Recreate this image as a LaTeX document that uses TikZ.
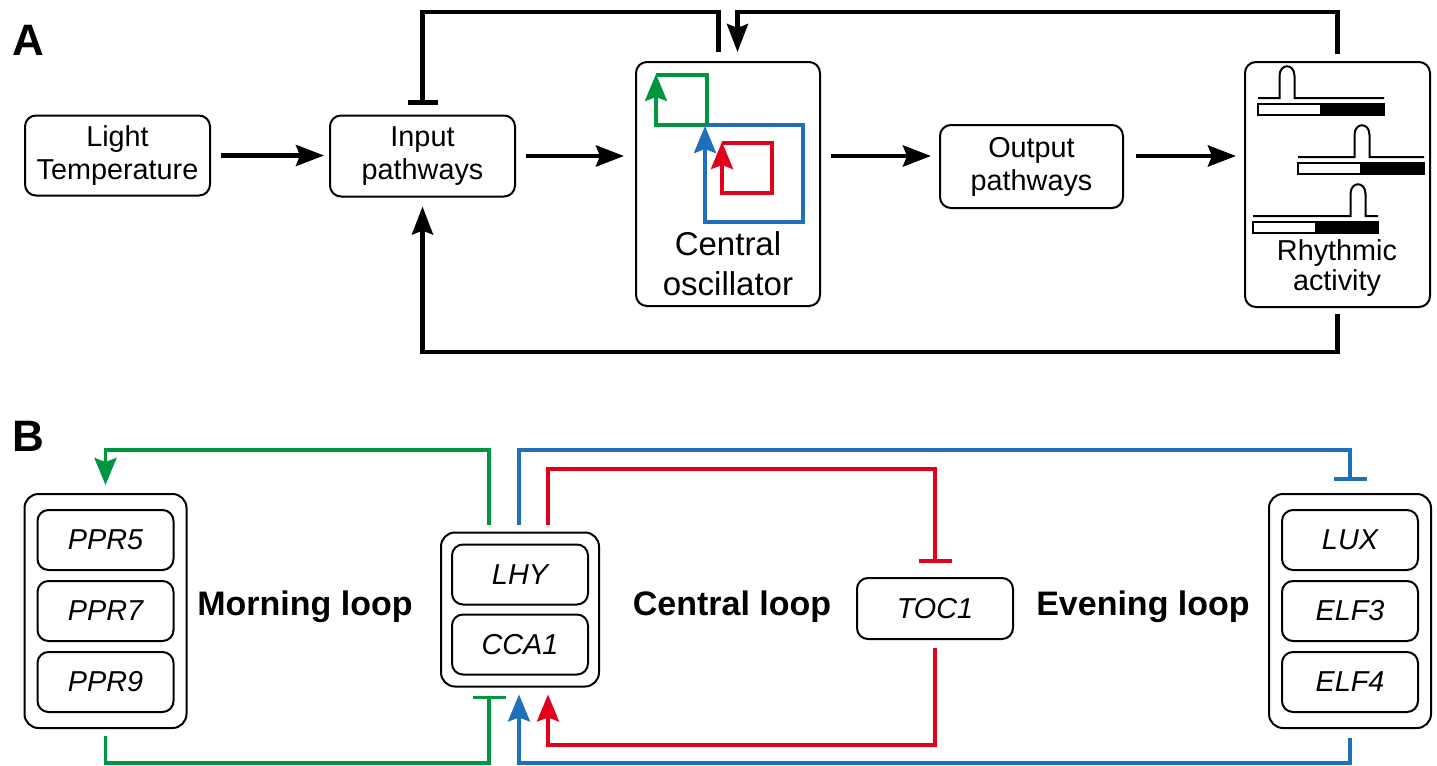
\documentclass[tikz,border=0pt]{standalone}
\usepackage{fontspec}
\setmainfont{Liberation Sans}
\usetikzlibrary{arrows.meta,positioning,fit}
\definecolor{loopgreen}{RGB}{0,150,64}
\definecolor{loopblue}{RGB}{31,112,187}
\definecolor{loopred}{RGB}{226,0,26}
\tikzset{
	box/.style = {
		draw,
		line width=1pt,
		rounded corners=5.5pt,
		align=center,
		inner sep=0pt,
		font=\fontsize{14.4}{16.5}\selectfont
	},
	gene/.style = {
		box,
		font=\fontsize{14.4}{16.5}\selectfont\itshape,
		minimum width=68pt,
		minimum height=30pt
	},
	genegroup/.style = {
		draw,
		line width=1pt,
		rounded corners=7pt,
		inner xsep=6pt,
		inner ysep=7.5pt
	},
	looplabel/.style = {font=\fontsize{17}{20}\selectfont\bfseries},
	panel/.style = {font=\fontsize{22}{24}\selectfont\bfseries, inner sep=0pt},
	flow/.style = {line width=2.2pt, -{Stealth[length=14pt,width=10.5pt,inset=2pt]}},
	block/.style = {line width=2.2pt, -{Bar[width=15pt]}},
	act/.style = {line width=1.8pt, -{Stealth[length=13.5pt,width=11pt,inset=2pt]}},
	rep/.style = {line width=1.8pt, -{Bar[width=16.5pt]}},
	trace/.style = {line width=1pt}
}
\begin{document}
\begin{tikzpicture}[x=0.5pt,y=-0.5pt]
	\useasboundingbox (0,0) rectangle (1437,766);
	\node[panel] (panela) at (28,40) {A};
	\node[panel] (panelb) at (28,436) {B};

	\node[box, minimum width=92.5pt, minimum height=40pt] (light) at (117.5,155.5) {Light\\Temperature};
	\node[box, minimum width=92.5pt, minimum height=40.5pt] (input) at (422.5,156) {Input\\pathways};
	\node[box, minimum width=92pt, minimum height=122pt] (osc) at (728,184) {};
	\node[box, minimum width=91.5pt, minimum height=41.5pt] (output) at (1031.5,166.5) {Output\\pathways};
	\node[box, minimum width=92.5pt, minimum height=122.5pt] (rhythm) at (1337.5,184.5) {};
	\node[font=\fontsize{16.5}{20}\selectfont, align=center] (osctext) at (728,264) {Central\\oscillator};
	\node[font=\fontsize{14.4}{15}\selectfont, align=center] (rhythmtext) at (1337,268) {Rhythmic\\activity};

	\draw[act, loopgreen] (656,75) -- (707,75) -- (707,125) -- (656,125) -- (656,74);
	\draw[act, loopblue] (705,125) -- (803,125) -- (803,222) -- (705,222) -- (705,126);
	\draw[act, loopred] (722,143) -- (772,143) -- (772,193) -- (722,193) -- (722,142);

	\foreach \xa/\xb/\yl/\px/\xw in {1258/1384/98/1287/1320, 1298/1424/157/1362/1360, 1253/1378/216/1358/1315}{
		\draw[trace] (\xa,\yl) -- (\px-7.5,\yl) -- (\px-7.5,\yl-22) .. controls (\px-7.5,\yl-35) and (\px+7.5,\yl-35) .. (\px+7.5,\yl-22) -- (\px+7.5,\yl) -- (\xb,\yl);
		\fill (\xw,\yl+6) rectangle (\xb,\yl+17);
		\draw[trace] (\xa,\yl+6) rectangle (\xb,\yl+17);
	}

	\coordinate (ftop) at (0,12);
	\coordinate (fbot) at (0,352);
	\coordinate (oscl) at ([xshift=-4.75pt]osc.center);
	\coordinate (oscr) at ([xshift=4.75pt]osc.center);

	\draw[flow, shorten <=5pt, shorten >=2.5pt] (light.east) -- (light.east -| input.west);
	\draw[flow, shorten <=5pt, shorten >=5.5pt] (input.east) -- (input.east -| osc.west);
	\draw[flow, shorten <=5pt, shorten >=4pt] (osc.east |- input.east) -- (output.west |- input.east);
	\draw[flow, shorten <=6pt, shorten >=4pt] (output.east |- input.east) -- (rhythm.west |- input.east);
	\draw[block, shorten <=4.5pt, shorten >=5pt] (oscl |- osc.north) |- (input.north |- ftop) -- (input.north);
	\draw[flow, shorten <=3.5pt, shorten >=4.5pt] (rhythm.north) |- (oscr |- ftop) -- (oscr |- osc.north);
	\draw[flow, shorten <=3pt, shorten >=4.5pt] (rhythm.south) |- (input.south |- fbot) -- (input.south);

	\node[gene] (ppr5) at (105.5,540) {PPR5};
	\node[gene, below=4.5pt of ppr5] (ppr7) {PPR7};
	\node[gene, below=4.5pt of ppr7] (ppr9) {PPR9};
	\node[genegroup, fit=(ppr5)(ppr9)] (pprgrp) {};

	\node[gene] (lhy) at (520,574.5) {LHY};
	\node[gene, below=4pt of lhy] (cca1) {CCA1};
	\node[genegroup, inner xsep=5pt, inner ysep=5.5pt, fit=(lhy)(cca1)] (lhygrp) {};

	\node[gene, minimum width=78pt, minimum height=30.5pt] (toc1) at (935,608.5) {TOC1};

	\node[gene] (lux) at (1350,540) {LUX};
	\node[gene, below=4.5pt of lux] (elf3) {ELF3};
	\node[gene, below=4.5pt of elf3] (elf4) {ELF4};
	\node[genegroup, fit=(lux)(elf4)] (luxgrp) {};

	\node[looplabel] (morning) at (305,607) {Morning loop};
	\node[looplabel] (central) at (732,607) {Central loop};
	\node[looplabel] (evening) at (1143,607) {Evening loop};

	\coordinate (gtop) at (0,450);
	\coordinate (rtop) at (0,469);
	\coordinate (rbot) at (0,745);
	\coordinate (gbot) at (0,763);
	\coordinate (gx) at ([xshift=-15.5pt]lhygrp.center);
	\coordinate (bx) at ([xshift=-0.5pt]lhygrp.center);
	\coordinate (rx) at ([xshift=14pt]lhygrp.center);

	\draw[act, loopgreen, shorten <=3.5pt, shorten >=4pt] (gx |- lhygrp.north) |- (pprgrp.north |- gtop) -- (pprgrp.north);
	\draw[rep, loopblue, shorten <=3.5pt, shorten >=6pt] (bx |- lhygrp.north) |- (luxgrp.north |- gtop) -- (luxgrp.north);
	\draw[rep, loopred, shorten <=3.5pt, shorten >=7pt] (rx |- lhygrp.north) |- (toc1.north |- rtop) -- (toc1.north);
	\draw[act, loopred, shorten <=4pt, shorten >=3.5pt] (toc1.south) |- (rx |- rbot) -- (rx |- lhygrp.south);
	\draw[act, loopblue, shorten <=4.5pt, shorten >=3.5pt] (luxgrp.south) |- (bx |- gbot) -- (bx |- lhygrp.south);
	\draw[rep, loopgreen, shorten <=3.5pt, shorten >=4pt] (pprgrp.south) |- (gx |- gbot) -- (gx |- lhygrp.south);
\end{tikzpicture}
\end{document}
